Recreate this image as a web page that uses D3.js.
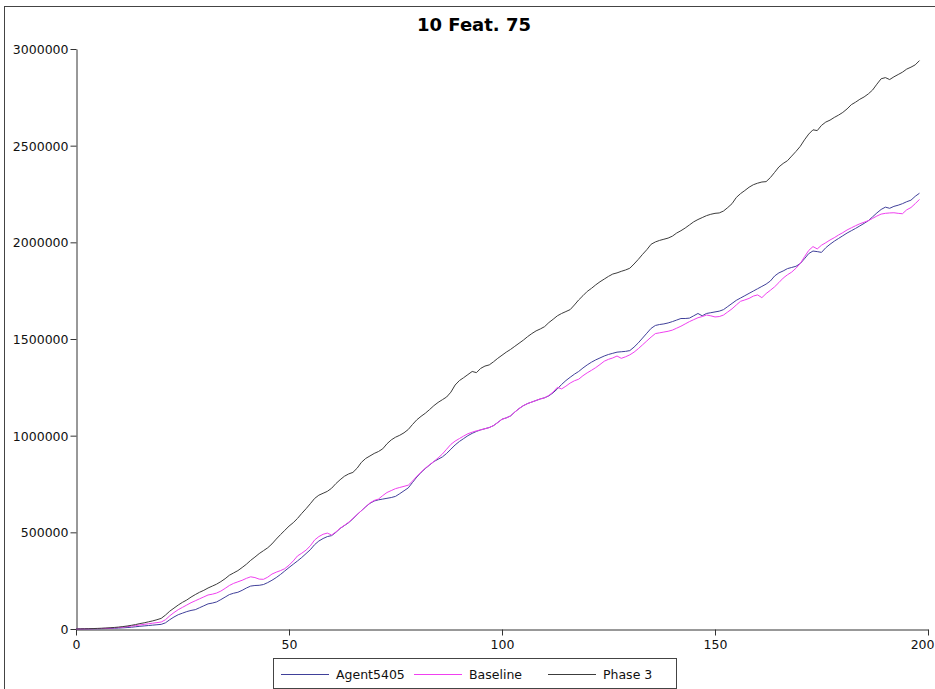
<!DOCTYPE html>
<html>
<head>
<meta charset="utf-8">
<script src="https://cdn.jsdelivr.net/npm/d3@7/dist/d3.min.js"></script>
<style>
  html, body { margin: 0; padding: 0; background: #fff; }
  svg { display: block; font-family: "DejaVu Sans", sans-serif; }
</style>
</head>
<body>
<svg id="chart" width="935" height="689"></svg>
<script>
// Chart title and axis ticks
const chartTitle = "10 Feat. 75";
const xTicks = [0, 50, 100, 150, 200];
const yTicks = [0, 500000, 1000000, 1500000, 2000000, 2500000, 3000000];

// Series names and colours, in legend order
const seriesNames = ["Agent5405", "Baseline", "Phase 3"];
const seriesColors = ["#40409a", "#f040f0", "#3c3c3c"];

// Cumulative value per step (step = array index)
const agent5405 = [
  0, 200, 400, 600, 900, 1200, 1600, 2100, 2800, 3700,
  4800, 6000, 7500, 9200, 11500, 14000, 16000, 18000, 20000, 22000,
  24000, 32000, 48000, 62000, 74000, 82000, 90000, 96000, 100000, 110000,
  120000, 130000, 134000, 140000, 152000, 165000, 178000, 185000, 190000, 200000,
  212000, 222000, 225000, 226000, 230000, 240000, 252000, 266000, 282000, 300000,
  318000, 335000, 352000, 370000, 390000, 410000, 436000, 455000, 468000, 478000,
  483000, 500000, 520000, 535000, 550000, 570000, 592000, 612000, 632000, 650000,
  662000, 668000, 672000, 676000, 680000, 686000, 700000, 715000, 730000, 758000,
  786000, 810000, 830000, 848000, 866000, 878000, 890000, 908000, 930000, 952000,
  970000, 985000, 1000000, 1012000, 1022000, 1030000, 1036000, 1042000, 1052000, 1068000,
  1085000, 1092000, 1102000, 1122000, 1140000, 1155000, 1166000, 1174000, 1182000, 1190000,
  1196000, 1206000, 1222000, 1242000, 1265000, 1285000, 1302000, 1318000, 1332000, 1350000,
  1366000, 1380000, 1392000, 1402000, 1412000, 1420000, 1426000, 1432000, 1434000, 1436000,
  1440000, 1458000, 1480000, 1505000, 1530000, 1555000, 1570000, 1575000, 1578000, 1583000,
  1590000, 1598000, 1606000, 1606000, 1608000, 1620000, 1632000, 1620000, 1632000, 1636000,
  1640000, 1644000, 1652000, 1668000, 1684000, 1700000, 1712000, 1724000, 1736000, 1748000,
  1760000, 1772000, 1784000, 1800000, 1826000, 1842000, 1852000, 1864000, 1870000, 1876000,
  1890000, 1915000, 1942000, 1955000, 1952000, 1948000, 1972000, 1990000, 2006000, 2020000,
  2034000, 2048000, 2060000, 2072000, 2085000, 2098000, 2112000, 2132000, 2152000, 2170000,
  2182000, 2176000, 2186000, 2192000, 2200000, 2210000, 2218000, 2238000, 2254000
];

const baseline = [
  0, 300, 600, 1000, 1500, 2000, 2700, 3500, 4600, 6000,
  7500, 9500, 12000, 15000, 18000, 21000, 24000, 27000, 30000, 33000,
  36000, 48000, 68000, 85000, 100000, 112000, 124000, 136000, 146000, 156000,
  166000, 176000, 180000, 186000, 196000, 210000, 225000, 236000, 244000, 252000,
  262000, 270000, 266000, 258000, 257000, 268000, 284000, 294000, 302000, 312000,
  330000, 352000, 378000, 392000, 408000, 430000, 460000, 478000, 490000, 496000,
  486000, 502000, 521000, 536000, 552000, 572000, 592000, 612000, 632000, 652000,
  665000, 672000, 690000, 706000, 716000, 726000, 732000, 738000, 744000, 765000,
  790000, 812000, 832000, 850000, 866000, 885000, 905000, 930000, 955000, 972000,
  985000, 998000, 1010000, 1018000, 1025000, 1030000, 1036000, 1042000, 1052000, 1068000,
  1085000, 1092000, 1102000, 1122000, 1140000, 1155000, 1166000, 1174000, 1182000, 1190000,
  1196000, 1208000, 1226000, 1250000, 1242000, 1256000, 1272000, 1284000, 1292000, 1310000,
  1325000, 1338000, 1352000, 1368000, 1385000, 1395000, 1402000, 1412000, 1400000, 1408000,
  1418000, 1432000, 1450000, 1470000, 1490000, 1510000, 1528000, 1532000, 1536000, 1540000,
  1546000, 1556000, 1566000, 1578000, 1590000, 1600000, 1610000, 1616000, 1624000, 1620000,
  1614000, 1616000, 1624000, 1640000, 1656000, 1676000, 1695000, 1702000, 1710000, 1722000,
  1728000, 1714000, 1735000, 1752000, 1770000, 1792000, 1815000, 1832000, 1846000, 1866000,
  1890000, 1925000, 1958000, 1978000, 1966000, 1985000, 1998000, 2012000, 2024000, 2038000,
  2050000, 2064000, 2075000, 2086000, 2096000, 2104000, 2112000, 2124000, 2136000, 2146000,
  2150000, 2152000, 2153000, 2150000, 2148000, 2168000, 2180000, 2200000, 2222000
];

const phase3 = [
  0, 500, 1000, 1500, 2200, 3000, 4000, 5200, 6500, 8000,
  10000, 12500, 15500, 19000, 23000, 28000, 32000, 37000, 42000, 48000,
  55000, 72000, 92000, 108000, 124000, 138000, 150000, 165000, 178000, 190000,
  200000, 212000, 222000, 232000, 245000, 260000, 278000, 290000, 302000, 318000,
  335000, 355000, 372000, 390000, 405000, 420000, 440000, 465000, 488000, 510000,
  532000, 550000, 572000, 598000, 622000, 648000, 675000, 692000, 702000, 712000,
  728000, 752000, 772000, 790000, 802000, 810000, 832000, 862000, 882000, 895000,
  908000, 918000, 932000, 958000, 978000, 992000, 1002000, 1015000, 1032000, 1058000,
  1082000, 1100000, 1116000, 1135000, 1155000, 1172000, 1186000, 1200000, 1225000, 1262000,
  1285000, 1300000, 1316000, 1332000, 1326000, 1348000, 1360000, 1366000, 1382000, 1400000,
  1416000, 1432000, 1446000, 1462000, 1478000, 1494000, 1512000, 1528000, 1542000, 1552000,
  1564000, 1585000, 1602000, 1620000, 1632000, 1642000, 1652000, 1676000, 1702000, 1724000,
  1746000, 1762000, 1780000, 1796000, 1810000, 1824000, 1836000, 1842000, 1850000, 1857000,
  1866000, 1888000, 1912000, 1938000, 1962000, 1990000, 2002000, 2010000, 2016000, 2022000,
  2032000, 2048000, 2060000, 2074000, 2090000, 2106000, 2118000, 2128000, 2138000, 2145000,
  2150000, 2152000, 2162000, 2180000, 2200000, 2232000, 2252000, 2268000, 2285000, 2298000,
  2306000, 2312000, 2314000, 2335000, 2362000, 2390000, 2408000, 2422000, 2446000, 2470000,
  2496000, 2530000, 2560000, 2582000, 2578000, 2605000, 2622000, 2632000, 2646000, 2658000,
  2672000, 2690000, 2712000, 2725000, 2740000, 2752000, 2768000, 2788000, 2818000, 2846000,
  2852000, 2842000, 2856000, 2868000, 2880000, 2896000, 2906000, 2918000, 2940000
];

const seriesValues = [agent5405, baseline, phase3];

const svg = d3.select("#chart");
const W = 935, H = 689;

// Outer frame
svg.append("rect")
  .attr("x", 4.5).attr("y", 6.5)
  .attr("width", W).attr("height", H)
  .attr("fill", "none").attr("stroke", "#444").attr("stroke-width", 1);

const x = d3.scaleLinear().domain([0, 200]).range([76, 928]);
const y = d3.scaleLinear().domain([0, 3000000]).range([629, 49]);

// Title
svg.append("text")
  .attr("x", 474).attr("y", 31)
  .attr("text-anchor", "middle")
  .attr("font-size", 18).attr("font-weight", "bold")
  .attr("fill", "#000")
  .text(chartTitle);

// Axes
const yAxis = d3.axisLeft(y).tickValues(yTicks).tickFormat(d3.format("d"))
  .tickSizeInner(6).tickSizeOuter(0).tickPadding(2);
const xAxis = d3.axisBottom(x).tickValues(xTicks).tickFormat(d3.format("d"))
  .tickSizeInner(6).tickSizeOuter(0).tickPadding(5);

const gy = svg.append("g").attr("transform", "translate(76.5,0)").call(yAxis);
const gx = svg.append("g").attr("transform", "translate(0,629.5)").call(xAxis);
[gx, gy].forEach(g => {
  g.selectAll("path.domain").attr("stroke", "#333");
  g.selectAll(".tick line").attr("stroke", "#333");
  g.selectAll(".tick text")
    .attr("font-size", 12.5)
    .attr("font-family", "DejaVu Sans, sans-serif")
    .attr("fill", "#111");
});
gy.selectAll(".tick text").attr("dy", "0.35em");
// keep the last x label inside the page edge
gx.selectAll(".tick text")
  .filter(d => d === xTicks[xTicks.length - 1])
  .attr("text-anchor", "end")
  .attr("x", 934 - x(xTicks[xTicks.length - 1]));

// Lines
const line = d3.line()
  .x((d, i) => x(i))
  .y(d => y(d));

seriesValues.forEach((vals, k) => {
  svg.append("path")
    .datum(vals)
    .attr("fill", "none")
    .attr("stroke", seriesColors[k])
    .attr("stroke-width", 1)
    .attr("stroke-linejoin", "round")
    .attr("d", line);
});

// Legend
const legend = svg.append("g");
legend.append("rect")
  .attr("x", 273.5).attr("y", 658.5)
  .attr("width", 403).attr("height", 30)
  .attr("fill", "#fff").attr("stroke", "#444").attr("stroke-width", 1);

const legendX = [281, 414, 548];
seriesNames.forEach((name, k) => {
  legend.append("line")
    .attr("x1", legendX[k]).attr("x2", legendX[k] + 48)
    .attr("y1", 674.5).attr("y2", 674.5)
    .attr("stroke", seriesColors[k]).attr("stroke-width", 1);
  legend.append("text")
    .attr("x", legendX[k] + 55).attr("y", 674.5)
    .attr("dy", "0.35em")
    .attr("font-size", 12.5)
    .attr("fill", "#111")
    .text(name);
});
</script>
</body>
</html>
